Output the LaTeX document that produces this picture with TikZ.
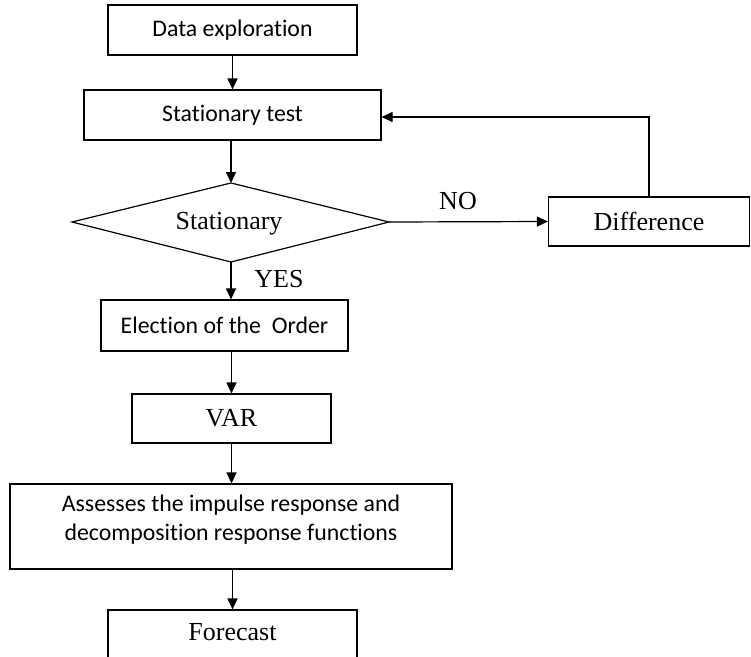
\documentclass[tikz,border=0pt]{standalone}
\usepackage{fontspec}
\setmainfont{Liberation Serif}
\newfontfamily\calib[Ligatures=NoCommon]{Carlito}
\usetikzlibrary{arrows.meta}
\begin{document}
\begin{tikzpicture}[x=1pt,y=-1pt,
  box/.style={draw,line width=1.2pt,inner sep=0pt,rectangle},
  sansbox/.style={box,font=\calib\fontsize{23.8}{29}\selectfont},
  serifbox/.style={box,font=\fontsize{26}{30}\selectfont},
  arr/.style={line width=1.2pt,-{Triangle[length=11pt,width=10pt]}},
  lab/.style={font=\fontsize{26}{30}\selectfont,inner sep=0pt}]
\useasboundingbox (0,0) rectangle (751,656);
\node[sansbox,minimum width=249pt,minimum height=50pt] (data) at (232.5,30) {Data exploration};
\node[sansbox,minimum width=297pt,minimum height=50pt] (stest) at (232.5,115) {Stationary test};
\coordinate (dn) at (231,183);
\coordinate (ds) at (231,262);
\coordinate (dw) at (72,222);
\coordinate (de) at (389,222);
\draw[line width=1.2pt,line join=miter] (dn) -- (de) -- (ds) -- (dw) -- cycle;
\node[font=\fontsize{26}{30}\selectfont,inner sep=0pt] (dia) at (229,224) {Stationary};
\node[serifbox,minimum width=201pt,minimum height=49pt] (diff) at (649,221.5) {Difference};
\node[sansbox,minimum width=247pt,minimum height=51pt] (elec) at (224.5,325.5) {Election of the\ \ Order};
\node[serifbox,minimum width=199pt,minimum height=49pt] (var) at (231.5,418.5) {VAR};
\node[box,minimum width=442pt,minimum height=85pt] (ass) at (231,526.5) {};
\node[font=\calib\fontsize{23.8}{29}\selectfont,align=center,inner sep=0pt] (asst) at (231,520) {Assesses the impulse response and\\decomposition response functions};
\node[box,minimum width=249pt,minimum height=90pt] (fc) at (232.5,655) {};
\node[lab] (fct) at (232.5,632) {Forecast};
\node[lab] (no) at (458,201) {NO};
\node[lab] (yes) at (279,279) {YES};
\draw[arr] (data.south) -- (stest.north);
\draw[arr] (stest.south -| dn) -- (dn);
\draw[arr] (de) -- (diff.west);
\draw[arr] (diff.north) |- ([yshift=-2pt]stest.east);
\draw[arr] (ds) -- (ds |- elec.north);
\draw[arr] (elec.south -| var.north) -- (var.north);
\draw[arr] (var.south) -- (var.south |- ass.north);
\draw[arr] (ass.south -| fc.north) -- (fc.north);
\end{tikzpicture}
\end{document}
